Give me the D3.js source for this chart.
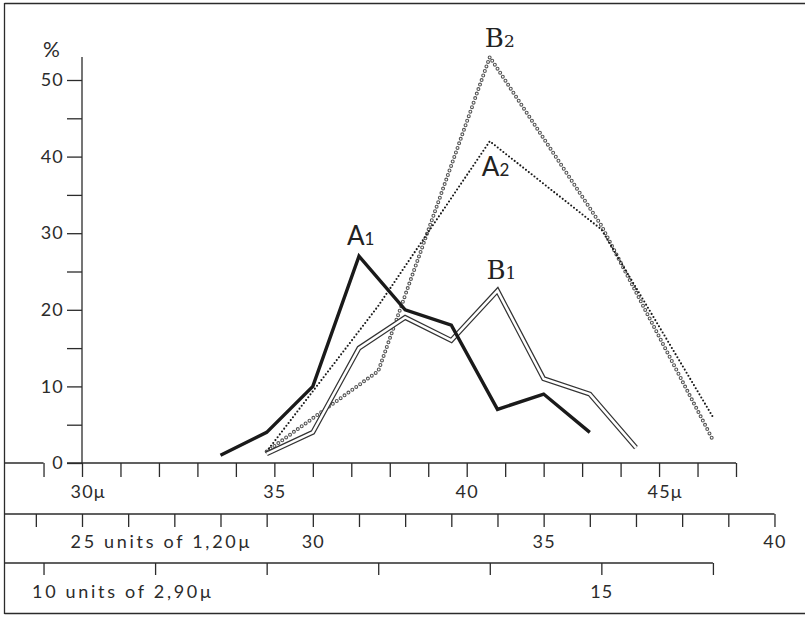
<!DOCTYPE html>
<html>
<head>
<meta charset="utf-8">
<script src="https://cdn.jsdelivr.net/npm/d3@7"></script>
<style>
  body { margin: 0; background: #fff; }
  svg { display: block; }
  .axis line { stroke: #2b2b2b; stroke-width: 1.3; }
  .axis text { font-family: Lato, "DejaVu Sans", sans-serif; font-size: 18px; letter-spacing: 1.2px; fill: #2b2b2b; }
  .axis text.long { letter-spacing: 2.7px; }
  .rule { stroke: #2b2b2b; stroke-width: 1.3; }
</style>
</head>
<body>
<svg width="805" height="617"></svg>
<script>
// A1, B1 measured in units of 1,20 mu
var unitsA1 = [28, 29, 30, 31, 32, 33, 34, 35, 36];
var valuesA1 = [1, 4, 10, 27, 20, 18, 7, 9, 4];
var unitsB1 = [29, 30, 31, 32, 33, 34, 35, 36, 37];
var valuesB1 = [1.2, 4, 15, 19, 16, 22.5, 11, 9, 2];
// A2, B2 measured in units of 2,90 mu
var unitsA2 = [12, 13, 14, 15, 16];
var valuesA2 = [1.5, 20.5, 42, 30.5, 6];
var unitsB2 = [12, 13, 14, 15, 16];
var valuesB2 = [1.5, 12, 53, 31, 3];

var yTicks = [0, 5, 10, 15, 20, 25, 30, 35, 40, 45, 50];
var muTicks = [29, 30, 31, 32, 33, 34, 35, 36, 37, 38, 39, 40, 41, 42, 43, 44, 45, 46, 47];
var muLabels = { 30: "30μ", 35: "35", 40: "40", 45: "45μ" };
var unit120Ticks = [24, 25, 26, 27, 28, 29, 30, 31, 32, 33, 34, 35, 36, 37, 38, 39, 40];
var unit120Labels = { 25: "25 units of 1,20μ", 30: "30", 35: "35", 40: "40" };
var unit290Ticks = [10, 11, 12, 13, 14, 15, 16];
var unit290Labels = { 10: "10 units of 2,90μ", 15: "15" };

var svg = d3.select('svg');
var left = 4.5;

var x = d3.scaleLinear().domain([30, 47]).range([82, 736]);
var y = d3.scaleLinear().domain([0, 50]).range([463, 80]);
var x120 = d3.scaleLinear().domain([25, 40]).range([x(30), x(48)]);
var x290 = d3.scaleLinear().domain([10, 15]).range([x(29), x(43.5)]);

// frame
svg.append('line').attr('class', 'rule').attr('x1', left).attr('x2', 805).attr('y1', 3.5).attr('y2', 3.5);
svg.append('line').attr('class', 'rule').attr('x1', left).attr('x2', left).attr('y1', 3).attr('y2', 614);
svg.append('line').attr('class', 'rule').attr('x1', left).attr('x2', 805).attr('y1', 613.5).attr('y2', 613.5);

// y axis
var yAxis = svg.append('g')
  .attr('class', 'axis')
  .attr('transform', 'translate(82,0)')
  .call(d3.axisLeft(y).tickValues(yTicks).tickSize(15).tickPadding(3)
    .tickFormat(d => d % 10 === 0 ? d : ''));
yAxis.select('.domain').remove();
yAxis.append('line').attr('x1', 0).attr('x2', 0).attr('y1', 57).attr('y2', y(0));
yAxis.append('text').attr('x', -30).attr('y', 57).attr('text-anchor', 'middle')
  .style('font-size', '21px').text('%');

// stacked bottom scales
function scaleRow(scale, ticks, labels, ypos, size) {
  var g = svg.append('g')
    .attr('class', 'axis')
    .attr('transform', `translate(0,${ypos})`)
    .call(d3.axisBottom(scale).tickValues(ticks).tickSize(size)
      .tickFormat(d => labels[d] || ''));
  g.select('.domain').remove();
  g.selectAll('.tick text')
    .attr('y', 35).attr('dy', null)
    .each(function (d) {
      var t = labels[d];
      if (t && t.length > 2) d3.select(this).attr('text-anchor', 'start').attr('x', -12);
      if (t && t.length > 4) d3.select(this).classed('long', true);
    });
  return g;
}

var main = scaleRow(x, muTicks, muLabels, 463, 14);
main.append('line').attr('x1', left).attr('x2', x(29)).attr('y1', 0).attr('y2', 0);
main.append('line').attr('x1', 67).attr('x2', x(47)).attr('y1', 0).attr('y2', 0);

var row2 = scaleRow(x120, unit120Ticks, unit120Labels, 514, 13);
row2.append('line').attr('x1', left).attr('x2', x120(40)).attr('y1', 0).attr('y2', 0);
row2.selectAll('.tick text').attr('y', 34);

var row3 = scaleRow(x290, unit290Ticks, unit290Labels, 563, 12);
row3.append('line').attr('x1', left).attr('x2', x290(16)).attr('y1', 0).attr('y2', 0);

// curves
var line = d3.line().x(d => d[0]).y(d => y(d[1]));
var ptsA1 = unitsA1.map((u, i) => [x120(u), valuesA1[i]]);
var ptsB1 = unitsB1.map((u, i) => [x120(u), valuesB1[i]]);
var ptsA2 = unitsA2.map((u, i) => [x290(u), valuesA2[i]]);
var ptsB2 = unitsB2.map((u, i) => [x290(u), valuesB2[i]]);

var plot = svg.append('g').attr('fill', 'none').attr('stroke-linejoin', 'miter');

// B2: small open rings
plot.append('path').datum(ptsB2).attr('d', line)
  .attr('stroke', '#555').attr('stroke-width', 4)
  .attr('stroke-linecap', 'round').attr('stroke-dasharray', '0,4.8');
plot.append('path').datum(ptsB2).attr('d', line)
  .attr('stroke', '#fff').attr('stroke-width', 1.8)
  .attr('stroke-linecap', 'round').attr('stroke-dasharray', '0,4.8');

// A2: fine dots
plot.append('path').datum(ptsA2).attr('d', line)
  .attr('stroke', '#1a1a1a').attr('stroke-width', 2.1)
  .attr('stroke-linecap', 'round').attr('stroke-dasharray', '0,3.6');

// B1: double line
plot.append('path').datum(ptsB1).attr('d', line)
  .attr('stroke', '#333').attr('stroke-width', 5);
plot.append('path').datum(ptsB1).attr('d', line)
  .attr('stroke', '#fff').attr('stroke-width', 2.6);

// A1: heavy line
plot.append('path').datum(ptsA1).attr('d', line)
  .attr('stroke', '#1a1a1a').attr('stroke-width', 3.4);

// curve names
function curveName(pt, letter, sub, dx, dy, family) {
  var t = svg.append('text')
    .attr('x', pt[0] + dx).attr('y', y(pt[1]) + dy)
    .attr('font-family', family).attr('font-size', 26).attr('fill', '#222');
  t.append('tspan').text(letter);
  t.append('tspan').attr('font-size', 17).text(sub);
}
curveName(ptsA1[3], 'A', '1', -12, -11, 'Lato, "DejaVu Sans", sans-serif');
curveName(ptsB1[5], 'B', '1', -11, -12, '"DejaVu Serif", serif');
curveName(ptsA2[2], 'A', '2', -8, 35, 'Lato, "DejaVu Sans", sans-serif');
curveName(ptsB2[2], 'B', '2', -5, -10, '"DejaVu Serif", serif');
</script>
</body>
</html>
